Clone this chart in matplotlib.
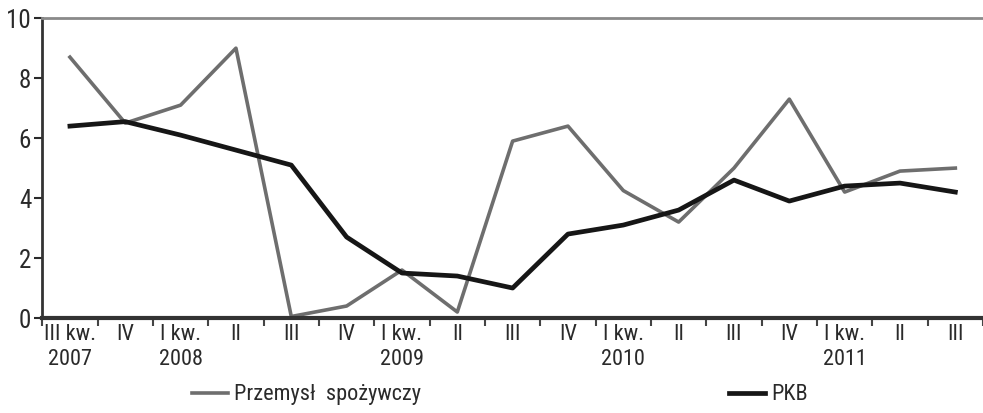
import numpy as np
import matplotlib
matplotlib.use("Agg")
import matplotlib.pyplot as plt
from matplotlib.lines import Line2D

plt.rcParams['font.family'] = ['Roboto Condensed', 'DejaVu Sans']

# quarterly labels, III 2007 - III 2011
quarters = ["III kw.\n2007", "IV", "I kw.\n2008", "II", "III", "IV",
            "I kw.\n2009", "II", "III", "IV", "I kw.\n2010", "II",
            "III", "IV", "I kw.\n2011", "II", "III"]
przemysl = [8.7, 6.5, 7.1, 9.0, 0.05, 0.4, 1.6, 0.2, 5.9, 6.4,
            4.25, 3.2, 5.0, 7.3, 4.2, 4.9, 5.0]
pkb = [6.4, 6.55, 6.1, 5.6, 5.1, 2.7, 1.5, 1.4, 1.0, 2.8,
       3.1, 3.6, 4.6, 3.9, 4.4, 4.5, 4.2]

fig = plt.figure(figsize=(9.83, 4.13), dpi=100)
ax = fig.add_axes([0.043, 0.23, 0.957, 0.726])

x = np.arange(len(quarters))
ax.plot(x, przemysl, color="#6e6e6e", linewidth=2.6)
ax.plot(x, pkb, color="#161616", linewidth=3.4)

ax.set_xlim(-0.5, len(quarters) - 0.5)
ax.set_ylim(0, 10)
ax.set_yticks([0, 2, 4, 6, 8, 10])
ax.tick_params(axis="y", labelsize=18, length=6, width=1.5, pad=2, colors="#2a2a2a")

# category labels at the centres, tick marks between categories
ax.set_xticks(x)
ax.set_xticklabels(quarters, fontsize=16, color="#2a2a2a", linespacing=1.25)
ax.tick_params(axis="x", which="major", length=0, pad=4)
ax.set_xticks(np.arange(-0.5, len(quarters)), minor=True)
ax.tick_params(axis="x", which="minor", length=6, width=1.5, color="#444444")

ax.spines["right"].set_visible(False)
ax.spines["top"].set_color("#8a8a8a")
ax.spines["top"].set_linewidth(2)
ax.spines["left"].set_linewidth(2)
ax.spines["left"].set_color("#333333")
ax.spines["bottom"].set_linewidth(3)
ax.spines["bottom"].set_color("#333333")

handles = [Line2D([], [], color="#6e6e6e", linewidth=2.6),
           Line2D([], [], color="#161616", linewidth=3.4)]
fig.legend(handles, ["Przemysł  spożywczy", "PKB"], loc="lower left",
           bbox_to_anchor=(0.175, -0.03), ncol=2, frameon=False, fontsize=16,
           handlelength=1.6, handletextpad=0.3, columnspacing=13.85,
           labelcolor="#2a2a2a")

fig.savefig("out.png", dpi=100)
